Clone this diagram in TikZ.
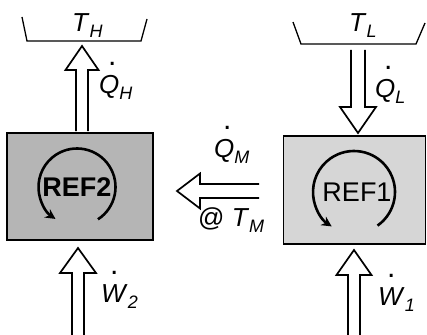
\documentclass[tikz,border=0pt]{standalone}
\usepackage{fontspec}
\setmainfont{Liberation Sans}
\usetikzlibrary{arrows.meta,calc}
\newcommand\subl[1]{\raisebox{-6pt}{\fontsize{18}{18}\selectfont\itshape #1}}
\newcommand\dotover[1]{\makebox[0pt][l]{\hspace{9pt}\raisebox{28pt}{\fontsize{30}{30}\selectfont\upshape .}}\textit{#1}}
\tikzset{
  reservoir/.style={line width=1.3pt},
  blockarrow/.style={draw, line width=1.7pt, fill=white, line join=miter},
  engine/.style={draw, line width=1.8pt, inner sep=0pt},
  cyc/.style={line width=2.6pt, -{Stealth[length=10pt,width=10pt]}},
  lbl/.style={font=\fontsize{26}{26}\selectfont, inner sep=0pt, anchor=base west},
  reftext/.style={font=\fontsize{27}{27}\selectfont, inner sep=0pt}
}
\begin{document}
\begin{tikzpicture}[x=1pt,y=1pt]
\useasboundingbox (0,0) rectangle (427,-334);
% reservoirs
\draw[reservoir] (22,-17) -- (27,-41) -- (141,-41) -- (147,-19);
\draw[reservoir] (293,-22) -- (301,-44) -- (416,-44) -- (425,-23);
\node[lbl] (th) at (72,-32) {\textit{T}\subl{H}};
\node[lbl] (tl) at (349,-32) {\textit{T}\subl{L}};
% engines
\node[engine, fill=gray!58, minimum width=146pt, minimum height=107pt] (ref2) at (80,-186.5) {};
\node[engine, fill=gray!32, minimum width=142pt, minimum height=108pt] (ref1) at (354.5,-190) {};
\node[reftext, font=\fontsize{27}{27}\selectfont\bfseries] (t2) at (77,-187) {REF2};
\node[reftext] (t1) at (357,-192) {REF1};
\coordinate (c2) at (77,-187);
\coordinate (c1) at (354,-192);
\draw[cyc] ($(c2)+(-57:38.5)$) arc[start angle=-57, end angle=236, radius=38.5];
\draw[cyc] ($(c1)+(-55:41)$) arc[start angle=-55, end angle=237, radius=41];
% arrow coordinates
\coordinate (qhb) at (82,-131);
\coordinate (qht) at (82,-46);
\coordinate (qlb) at (358,-50);
\coordinate (qlt) at (358,-133);
\coordinate (w2b) at (78,-336);
\coordinate (w2t) at (78,-248);
\coordinate (w1b) at (354,-336);
\coordinate (w1t) at (354,-250);
\coordinate (qmb) at (259,-191);
\coordinate (qmt) at (177,-191);
% Q_H up
\draw[blockarrow] let \p1=(qhb), \p2=(qht) in
  (\x1-6pt,\y1) -- (\x1-6pt,\y2-24pt) -- (\x1-16.5pt,\y2-24pt) -- (\p2)
  -- (\x1+16.5pt,\y2-24pt) -- (\x1+6pt,\y2-24pt) -- (\x1+6pt,\y1);
% Q_L down
\draw[blockarrow] let \p1=(qlb), \p2=(qlt) in
  (\x1-7pt,\y1) -- (\x1-7pt,\y2+26pt) -- (\x1-18pt,\y2+26pt) -- (\p2)
  -- (\x1+18pt,\y2+26pt) -- (\x1+7pt,\y2+26pt) -- (\x1+7pt,\y1);
% W2 up
\draw[blockarrow] let \p1=(w2b), \p2=(w2t) in
  (\x1-6pt,\y1) -- (\x1-6pt,\y2-25pt) -- (\x1-18pt,\y2-25pt) -- (\p2)
  -- (\x1+18pt,\y2-25pt) -- (\x1+6pt,\y2-25pt) -- (\x1+6pt,\y1);
% W1 up
\draw[blockarrow] let \p1=(w1b), \p2=(w1t) in
  (\x1-6pt,\y1) -- (\x1-6pt,\y2-25pt) -- (\x1-17.5pt,\y2-25pt) -- (\p2)
  -- (\x1+17.5pt,\y2-25pt) -- (\x1+6pt,\y2-25pt) -- (\x1+6pt,\y1);
% Q_M left
\draw[blockarrow] let \p1=(qmb), \p2=(qmt) in
  (\x1,\y1+7pt) -- (\x2+23pt,\y1+7pt) -- (\x2+23pt,\y1+17.5pt) -- (\p2)
  -- (\x2+23pt,\y1-17.5pt) -- (\x2+23pt,\y1-7pt) -- (\x1,\y1-7pt);
% labels
\node[lbl] (qh) at (99,-93) {\dotover{Q}\subl{H}};
\node[lbl] (ql) at (375,-97) {\dotover{Q}\subl{L}};
\node[lbl] (qm) at (214,-157) {\dotover{Q}\subl{M}};
\node[lbl] (tm) at (198,-226) {@ \textit{T}\subl{M}};
\node[lbl] (w2) at (101,-302) {\dotover{W}\subl{2}};
\node[lbl] (w1) at (378,-305) {\dotover{W}\subl{1}};
\end{tikzpicture}
\end{document}
